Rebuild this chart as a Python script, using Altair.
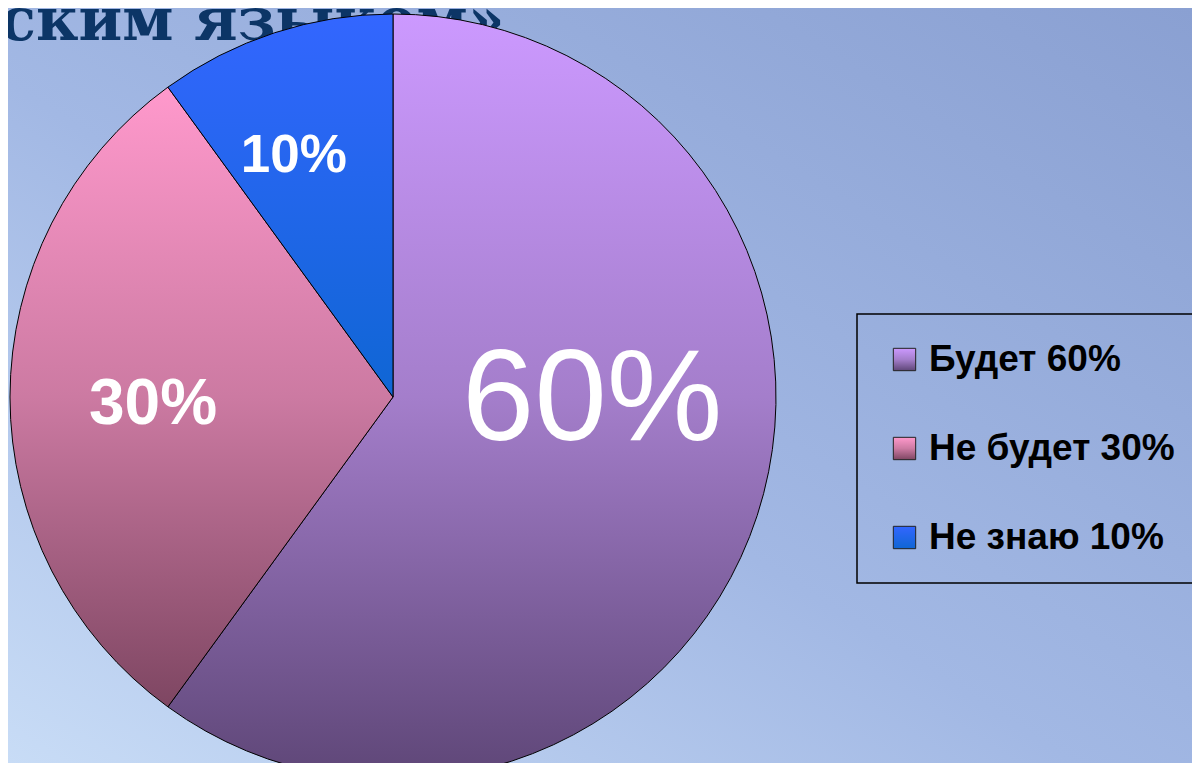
import altair as alt
import pandas as pd

# ---- data ----
categories = ["Будет 60%", "Не будет 30%", "Не знаю 10%"]
values = [60, 30, 10]
slice_labels = ["60%", "30%", "10%"]
order_idx = [0, 1, 2]
title_text = ["ским языком»"]

# ---- styles ----
W, H = 1184, 755
CX, CY, R = 385, 389, 383

grad_stops = [
    [(0.0, "#cc99ff"), (0.5, "#a47ecb"), (1.0, "#5e4677")],
    [(0.0, "#ff99cc"), (0.5, "#cc7aa2"), (1.0, "#7e4662")],
    [(0.0, "#3366ff"), (1.0, "#0f66d4")],
]


def grad_expr(stops, x1=0, y1=0, x2=0, y2=1):
    s = ", ".join("{offset: %s, color: '%s'}" % (o, c) for o, c in stops)
    return {"expr": "{gradient: 'linear', x1: %s, y1: %s, x2: %s, y2: %s, stops: [%s]}" % (x1, y1, x2, y2, s)}


color_range = [grad_expr(s) for s in grad_stops]

bg_expr = grad_expr([(0, "#c8dcf6"), (0.45, "#a2b8e4"), (1, "#8aa0d2")], x1=0, y1=1, x2=1, y2=0)

df = pd.DataFrame({"cat": categories, "value": values, "label": slice_labels, "idx": order_idx})
tdf = pd.DataFrame({"t": title_text})

title = alt.Chart(tdf).mark_text(
    font="DejaVu Serif", fontWeight="bold", fontSize=59, color="#0c3566",
    align="left", baseline="alphabetic",
).encode(text="t:N", x=alt.value(-8), y=alt.value(32))

arcs = alt.Chart(df).mark_arc(stroke="#000000", strokeWidth=1).encode(
    theta=alt.Theta("value:Q", stack=True, scale=alt.Scale(domain=[0, 100])),
    color=alt.Color(
        "cat:N",
        scale=alt.Scale(domain=categories, range=color_range),
        title=None,
        legend=alt.Legend(
            orient="none", legendX=849, legendY=306,
            symbolType="square", symbolSize=500,
            symbolStrokeColor="#222222", symbolStrokeWidth=1, symbolOpacity=1,
            symbolOffset=2,
            labelFont="Liberation Sans", labelFontWeight="bold", labelFontSize=37,
            labelColor="#000000", labelOffset=6, labelLimit=600,
            rowPadding=51, padding=27,
            strokeColor="#000000", fillColor="transparent",
        ),
    ),
    order=alt.Order("idx:Q"),
    x=alt.value(CX), y=alt.value(CY), radius=alt.value(R),
)

label_styles = [
    dict(fontSize=130, fontWeight="normal", r=200, dx=9, dy=-19),
    dict(fontSize=64, fontWeight="bold", r=240, dx=0, dy=27),
    dict(fontSize=53, fontWeight="bold", r=250, dx=-22, dy=13),
]

lab_base = alt.Chart(df).transform_stack(
    stack="value", as_=["v0", "v1"], groupby=[], sort=[alt.SortField("idx")]
).transform_calculate(mid="(datum.v0 + datum.v1) / 2")

labels = []
for i, st in enumerate(label_styles):
    labels.append(
        lab_base.transform_filter(alt.datum.idx == i).mark_text(
            font="Liberation Sans", fontSize=st["fontSize"], fontWeight=st["fontWeight"],
            color="#ffffff", align="center", baseline="alphabetic", dx=st["dx"], dy=st["dy"],
        ).encode(
            theta=alt.Theta("mid:Q", stack=False, scale=alt.Scale(domain=[0, 100])),
            radius=alt.value(st["r"]),
            text="label:N",
            x=alt.value(CX), y=alt.value(CY),
        )
    )

chart = alt.layer(title, arcs, *labels).properties(
    width=W, height=H, padding=0,
    autosize=alt.AutoSizeParams(type="none"),
).configure_view(fill=bg_expr, strokeWidth=0).configure_legend(strokeWidth=1.5)

chart.save("out.html", embed_options={"renderer": "svg", "actions": False})
